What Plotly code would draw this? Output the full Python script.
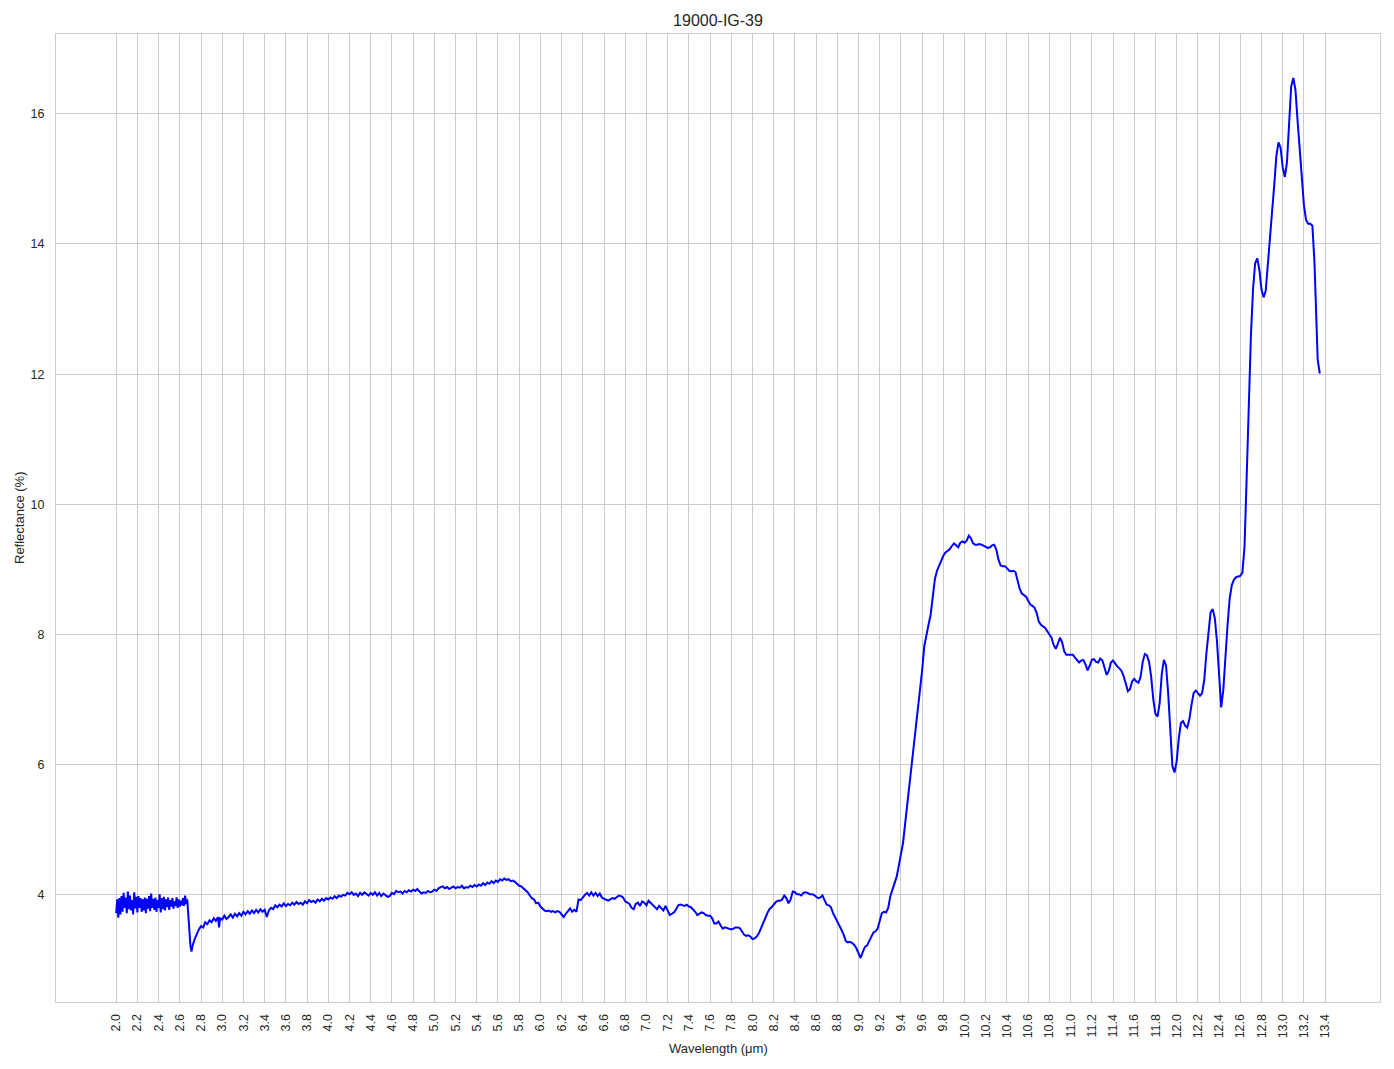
import plotly.graph_objects as go

# ---- Data ----
noisy_x = [2.00, 2.01, 2.02, 2.03, 2.04, 2.05, 2.06, 2.07, 2.08, 2.09,
           2.10, 2.11, 2.12, 2.13, 2.14, 2.15, 2.16, 2.17, 2.18, 2.19,
           2.20, 2.21, 2.22, 2.23, 2.24, 2.25, 2.26, 2.27, 2.28, 2.29,
           2.30, 2.31, 2.32, 2.33, 2.34, 2.35, 2.36, 2.37, 2.38, 2.39,
           2.40, 2.41, 2.42, 2.43, 2.44, 2.45, 2.46, 2.47, 2.48, 2.49,
           2.50, 2.51, 2.52, 2.53, 2.54, 2.55, 2.56, 2.57, 2.58, 2.59,
           2.60, 2.61, 2.62, 2.63, 2.64, 2.65, 2.66, 2.67, 2.68, 2.69,
           2.70, 2.71, 2.72]
noisy_y = [3.72, 3.93, 3.65, 3.95, 3.70, 3.98, 3.74, 4.03, 3.80, 3.96,
           3.72, 4.05, 3.78, 3.99, 3.76, 3.92, 3.70, 4.04, 3.79, 3.97,
           3.73, 3.98, 3.80, 3.95, 3.74, 3.93, 3.76, 3.96, 3.72, 3.94,
           3.79, 3.98, 3.75, 4.02, 3.80, 3.94, 3.77, 3.96, 3.74, 3.92,
           3.80, 4.01, 3.73, 3.95, 3.78, 3.97, 3.76, 3.93, 3.81, 3.96,
           3.77, 3.92, 3.82, 3.95, 3.79, 3.90, 3.83, 3.96, 3.80, 3.93,
           3.82, 3.91, 3.84, 3.95, 3.83, 3.99, 3.86, 3.93, 3.70, 3.45,
           3.22, 3.13, 3.22]

mid_x = [2.74, 2.76, 2.78, 2.80, 2.82, 2.84, 2.86, 2.88, 2.90, 2.92,
         2.94, 2.96, 2.97, 2.98, 3.00, 3.02, 3.04, 3.06, 3.08, 3.10,
         3.12, 3.14, 3.16, 3.18, 3.20, 3.22, 3.24, 3.26, 3.28, 3.30,
         3.32, 3.34, 3.36, 3.38, 3.40, 3.42, 3.44, 3.46, 3.48, 3.50,
         3.52, 3.54, 3.56, 3.58, 3.60, 3.62, 3.64, 3.66, 3.68, 3.70,
         3.72, 3.74, 3.76, 3.78, 3.80, 3.82, 3.84, 3.86, 3.88, 3.90,
         3.92, 3.94, 3.96, 3.98, 4.00, 4.02, 4.04, 4.06, 4.08, 4.10,
         4.12, 4.14, 4.16, 4.18, 4.20, 4.22, 4.24, 4.26, 4.28, 4.30,
         4.32, 4.34, 4.36, 4.38, 4.40, 4.42, 4.44, 4.46, 4.48, 4.50,
         4.52, 4.54, 4.56, 4.58, 4.60, 4.62, 4.64, 4.66, 4.68, 4.70,
         4.72, 4.74, 4.76, 4.78, 4.80, 4.82, 4.84, 4.86, 4.88, 4.90,
         4.92, 4.94, 4.96, 4.98, 5.00, 5.02, 5.04, 5.06, 5.08, 5.10,
         5.12, 5.14, 5.16, 5.18, 5.20, 5.22, 5.24, 5.26, 5.28, 5.30,
         5.32, 5.34, 5.36, 5.38, 5.40, 5.42, 5.44, 5.46, 5.48, 5.50,
         5.52, 5.54, 5.56, 5.58, 5.60, 5.62, 5.64, 5.66, 5.68, 5.70,
         5.72, 5.74, 5.76, 5.78, 5.80, 5.82, 5.84, 5.86, 5.88, 5.90,
         5.92, 5.94, 5.96, 5.98, 6.00, 6.02, 6.04, 6.06, 6.08, 6.10,
         6.12, 6.14, 6.16, 6.18, 6.20, 6.22, 6.24, 6.26, 6.28, 6.30,
         6.32, 6.34, 6.36, 6.38, 6.40, 6.42, 6.44, 6.46, 6.48, 6.50,
         6.52, 6.54, 6.56, 6.58, 6.60, 6.62, 6.64, 6.66, 6.68, 6.70,
         6.72, 6.74, 6.76, 6.78, 6.80, 6.82, 6.84, 6.86, 6.88, 6.90,
         6.92, 6.94, 6.96, 6.98, 7.00, 7.02, 7.04, 7.06, 7.08, 7.10,
         7.12, 7.14, 7.16, 7.18, 7.20, 7.22, 7.24, 7.26, 7.28, 7.30,
         7.32, 7.34, 7.36, 7.38, 7.40, 7.42, 7.44, 7.46, 7.48, 7.50,
         7.52, 7.54, 7.56, 7.58, 7.60, 7.62, 7.64, 7.66, 7.68, 7.70,
         7.72, 7.74, 7.76, 7.78, 7.80, 7.82, 7.84, 7.86, 7.88, 7.90,
         7.92, 7.94, 7.96, 7.98, 8.00, 8.02, 8.04, 8.06, 8.08, 8.10,
         8.12, 8.14, 8.16, 8.18, 8.20, 8.22, 8.24, 8.26, 8.28, 8.30,
         8.32, 8.34, 8.36, 8.38, 8.40, 8.42, 8.44, 8.46, 8.48, 8.50,
         8.52, 8.54, 8.56, 8.58, 8.60, 8.62, 8.64, 8.66, 8.68, 8.70,
         8.72, 8.74, 8.76, 8.78, 8.80, 8.82, 8.84, 8.86, 8.88, 8.90,
         8.92, 8.94, 8.96, 8.98, 9.00, 9.02, 9.04, 9.06, 9.08, 9.10,
         9.12, 9.14, 9.16, 9.18, 9.20, 9.22, 9.24, 9.26, 9.28, 9.30]
mid_y = [3.32, 3.40, 3.47, 3.52, 3.50, 3.58, 3.55, 3.61, 3.58, 3.64,
         3.60, 3.66, 3.50, 3.64, 3.62, 3.68, 3.63, 3.66, 3.70, 3.65,
         3.71, 3.67, 3.72, 3.68, 3.74, 3.70, 3.75, 3.71, 3.76, 3.72,
         3.77, 3.73, 3.78, 3.74, 3.77, 3.66, 3.76, 3.80, 3.78, 3.84,
         3.81, 3.85, 3.82, 3.87, 3.83, 3.86, 3.84, 3.88, 3.85, 3.89,
         3.86, 3.88, 3.85, 3.90, 3.87, 3.92, 3.89, 3.91, 3.88, 3.93,
         3.90, 3.94, 3.91, 3.95, 3.93, 3.96, 3.94, 3.98, 3.95, 3.99,
         3.97, 4.00, 3.99, 4.03, 4.01, 4.04, 4.00, 4.02, 3.98, 4.03,
         4.00, 4.04, 4.01, 3.99, 4.03, 4.00, 4.04, 3.99, 4.03, 3.98,
         4.02, 3.99, 3.97, 3.98, 4.03, 4.01, 4.06, 4.04, 4.05, 4.02,
         4.06, 4.04, 4.07, 4.05, 4.08, 4.06, 4.09, 4.05, 4.02, 4.04,
         4.03, 4.06, 4.04, 4.05, 4.08, 4.06, 4.10, 4.12, 4.13, 4.10,
         4.12, 4.09, 4.11, 4.13, 4.10, 4.12, 4.11, 4.14, 4.10, 4.12,
         4.11, 4.14, 4.12, 4.15, 4.13, 4.16, 4.14, 4.18, 4.15, 4.19,
         4.17, 4.21, 4.18, 4.22, 4.20, 4.24, 4.22, 4.25, 4.23, 4.24,
         4.21, 4.22, 4.20, 4.17, 4.14, 4.13, 4.10, 4.06, 4.04, 3.99,
         3.95, 3.93, 3.87, 3.88, 3.82, 3.79, 3.76, 3.75, 3.76, 3.74,
         3.75, 3.73, 3.75, 3.74, 3.70, 3.66, 3.71, 3.76, 3.79, 3.74,
         3.77, 3.74, 3.93, 3.92, 3.97, 4.00, 4.03, 3.99, 4.04, 3.99,
         4.03, 3.98, 4.02, 3.96, 3.94, 3.92, 3.91, 3.93, 3.95, 3.94,
         3.97, 3.99, 3.98, 3.96, 3.90, 3.88, 3.86, 3.80, 3.78, 3.86,
         3.88, 3.83, 3.90, 3.88, 3.84, 3.91, 3.88, 3.85, 3.82, 3.78,
         3.83, 3.80, 3.76, 3.83, 3.75, 3.69, 3.71, 3.73, 3.78, 3.84,
         3.85, 3.84, 3.83, 3.85, 3.82, 3.81, 3.78, 3.74, 3.69, 3.71,
         3.73, 3.72, 3.69, 3.68, 3.68, 3.64, 3.56, 3.56, 3.59, 3.53,
         3.48, 3.50, 3.49, 3.49, 3.47, 3.48, 3.50, 3.50, 3.49, 3.44,
         3.39, 3.37, 3.38, 3.36, 3.32, 3.33, 3.36, 3.41, 3.48, 3.56,
         3.64, 3.72, 3.78, 3.81, 3.86, 3.89, 3.91, 3.91, 3.93, 3.99,
         3.95, 3.87, 3.93, 4.05, 4.04, 4.01, 4.01, 3.99, 4.03, 4.04,
         4.03, 4.01, 4.01, 4.00, 3.97, 3.95, 3.96, 3.99, 3.92, 3.85,
         3.84, 3.81, 3.72, 3.66, 3.59, 3.52, 3.46, 3.39, 3.29, 3.27,
         3.28, 3.26, 3.23, 3.18, 3.09, 3.03, 3.12, 3.20, 3.22, 3.28,
         3.35, 3.42, 3.44, 3.48, 3.60, 3.72, 3.74, 3.73, 3.80, 3.98]

high_x = [9.32, 9.34, 9.36, 9.38, 9.40, 9.42, 9.44, 9.46, 9.48, 9.50,
          9.52, 9.54, 9.56, 9.58, 9.60, 9.62, 9.64, 9.66, 9.68, 9.70,
          9.72, 9.74, 9.76, 9.78, 9.80, 9.82, 9.84, 9.86, 9.88, 9.90,
          9.92, 9.94, 9.96, 9.98, 10.00, 10.02, 10.04, 10.06, 10.08, 10.10,
          10.12, 10.14, 10.16, 10.18, 10.20, 10.22, 10.24, 10.26, 10.28, 10.30,
          10.32, 10.34, 10.36, 10.38, 10.40, 10.42, 10.44, 10.46, 10.48, 10.50,
          10.52, 10.54, 10.56, 10.58, 10.60, 10.62, 10.64, 10.66, 10.68, 10.70,
          10.72, 10.74, 10.76, 10.78, 10.80, 10.82, 10.84, 10.86, 10.88, 10.90,
          10.92, 10.94, 10.96, 10.98, 11.00, 11.02, 11.04, 11.06, 11.08, 11.10,
          11.12, 11.14, 11.16, 11.18, 11.20, 11.22, 11.24, 11.26, 11.28, 11.30,
          11.32, 11.34, 11.36, 11.38, 11.40, 11.42, 11.44, 11.46, 11.48, 11.50,
          11.52, 11.54, 11.56, 11.58, 11.60, 11.62, 11.64, 11.66, 11.68, 11.70,
          11.72, 11.74, 11.76, 11.78, 11.80, 11.82, 11.84, 11.86, 11.88, 11.90,
          11.92, 11.94, 11.96, 11.98, 12.00, 12.02, 12.04, 12.06, 12.08, 12.10,
          12.12, 12.14, 12.16, 12.18, 12.20, 12.22, 12.24, 12.26, 12.28, 12.30,
          12.32, 12.34, 12.36, 12.38, 12.40, 12.42, 12.44, 12.46, 12.48, 12.50,
          12.52, 12.54, 12.56, 12.58, 12.60, 12.62, 12.64, 12.66, 12.68, 12.70,
          12.72, 12.74, 12.76, 12.78, 12.80, 12.82, 12.84, 12.86, 12.88, 12.90,
          12.92, 12.94, 12.96, 12.98, 13.00, 13.02, 13.04, 13.06, 13.08, 13.10,
          13.12, 13.14, 13.16, 13.18, 13.20, 13.22, 13.24, 13.26, 13.28, 13.30,
          13.32, 13.33, 13.35]
high_y = [4.08, 4.18, 4.28, 4.45, 4.62, 4.80, 5.10, 5.40, 5.70, 5.95,
          6.21, 6.55, 6.85, 7.10, 7.45, 7.82, 8.02, 8.15, 8.30, 8.60,
          8.85, 8.98, 9.06, 9.14, 9.21, 9.26, 9.28, 9.31, 9.36, 9.40,
          9.37, 9.34, 9.41, 9.43, 9.41, 9.44, 9.52, 9.48, 9.40, 9.38,
          9.38, 9.39, 9.38, 9.36, 9.34, 9.33, 9.34, 9.37, 9.38, 9.30,
          9.15, 9.06, 9.05, 9.05, 9.02, 8.98, 8.97, 8.98, 8.96, 8.85,
          8.70, 8.63, 8.61, 8.58, 8.52, 8.46, 8.44, 8.41, 8.33, 8.20,
          8.15, 8.13, 8.10, 8.05, 7.99, 7.95, 7.84, 7.78, 7.86, 7.95,
          7.88, 7.74, 7.69, 7.69, 7.70, 7.69, 7.65, 7.60, 7.57, 7.60,
          7.61, 7.54, 7.45, 7.52, 7.61, 7.62, 7.58, 7.57, 7.63, 7.60,
          7.48, 7.38, 7.44, 7.57, 7.60, 7.55, 7.51, 7.48, 7.44, 7.36,
          7.22, 7.13, 7.16, 7.28, 7.32, 7.28, 7.26, 7.35, 7.58, 7.70,
          7.68, 7.58, 7.35, 7.00, 6.78, 6.74, 6.95, 7.40, 7.61, 7.52,
          7.10, 6.45, 5.98, 5.88, 6.05, 6.40, 6.64, 6.67, 6.60, 6.57,
          6.70, 6.92, 7.10, 7.14, 7.10, 7.06, 7.10, 7.30, 7.70, 8.05,
          8.34, 8.39, 8.25, 7.90, 7.35, 6.88, 7.15, 7.75, 8.15, 8.55,
          8.76, 8.84, 8.88, 8.89, 8.90, 8.95, 9.35, 10.40, 11.60, 12.58,
          13.30, 13.70, 13.78, 13.60, 13.30, 13.18, 13.28, 13.65, 14.06, 14.50,
          14.90, 15.35, 15.56, 15.48, 15.18, 15.03, 15.25, 15.95, 16.42, 16.55,
          16.37, 15.90, 15.45, 15.00, 14.60, 14.37, 14.31, 14.31, 14.28, 13.70,
          12.80, 12.22, 12.01]

x_tick_vals = [2.0, 2.2, 2.4, 2.6, 2.8, 3.0, 3.2, 3.4, 3.6, 3.8,
               4.0, 4.2, 4.4, 4.6, 4.8, 5.0, 5.2, 5.4, 5.6, 5.8,
               6.0, 6.2, 6.4, 6.6, 6.8, 7.0, 7.2, 7.4, 7.6, 7.8,
               8.0, 8.2, 8.4, 8.6, 8.8, 9.0, 9.2, 9.4, 9.6, 9.8,
               10.0, 10.2, 10.4, 10.6, 10.8, 11.0, 11.2, 11.4, 11.6, 11.8,
               12.0, 12.2, 12.4, 12.6, 12.8, 13.0, 13.2, 13.4]
x_tick_text = ["%.1f" % v for v in x_tick_vals]
y_tick_vals = [4, 6, 8, 10, 12, 14, 16]

wavelength = noisy_x + mid_x + high_x
reflectance = noisy_y + mid_y + high_y

# matplotlib-like 5% autoscale margins
xmin, xmax = min(wavelength), max(wavelength)
ymin, ymax = min(reflectance), max(reflectance)
xpad = 0.05 * (xmax - xmin)
ypad = 0.05 * (ymax - ymin)

FONT = "Liberation Sans, Arial, sans-serif"
GRID = "#cccccc"
TXT = "#262626"

# page body has an 8px default margin; figure sized to fit inside it
W, H = 1378, 1053

fig = go.Figure()
fig.add_trace(go.Scatter(x=wavelength, y=reflectance, mode="lines",
                         line=dict(color="#0000ff", width=2),
                         showlegend=False))

fig.update_layout(
    width=W, height=H,
    margin=dict(l=48, r=6, t=26, b=59),
    paper_bgcolor="white", plot_bgcolor="white",
    font=dict(family=FONT, color=TXT, size=13),
    title=dict(text="19000-IG-39", x=0.5, xref="paper", xanchor="center",
               y=1 - 12 / H, yref="container", yanchor="middle",
               font=dict(size=16, color=TXT, family=FONT)),
    xaxis=dict(range=[xmin - xpad, xmax + xpad], tickmode="array",
               tickvals=x_tick_vals, ticktext=x_tick_text, tickangle=-90,
               showgrid=True, gridcolor=GRID, gridwidth=1,
               showline=True, linecolor=GRID, linewidth=1, mirror=True,
               zeroline=False, ticks="outside", ticklen=6,
               tickcolor="rgba(0,0,0,0)", tickfont=dict(size=12.5, color=TXT)),
    yaxis=dict(range=[ymin - ypad, ymax + ypad], tickmode="array",
               tickvals=y_tick_vals, ticktext=[str(v) for v in y_tick_vals],
               showgrid=True, gridcolor=GRID, gridwidth=1,
               showline=True, linecolor=GRID, linewidth=1, mirror=True,
               zeroline=False, ticks="outside", ticklen=8,
               tickcolor="rgba(0,0,0,0)", tickfont=dict(size=12.5, color=TXT)),
    annotations=[
        dict(text="Wavelength (μm)", xref="paper", yref="paper", x=0.5, y=0,
             xanchor="center", yanchor="middle", yshift=-46, showarrow=False,
             font=dict(size=13, color=TXT, family=FONT)),
        dict(text="Reflectance (%)", xref="paper", yref="paper", x=0, y=0.5,
             xanchor="center", yanchor="middle", xshift=-37, textangle=-90,
             showarrow=False, font=dict(size=13, color=TXT, family=FONT)),
    ],
)

fig.write_html("out.html")
